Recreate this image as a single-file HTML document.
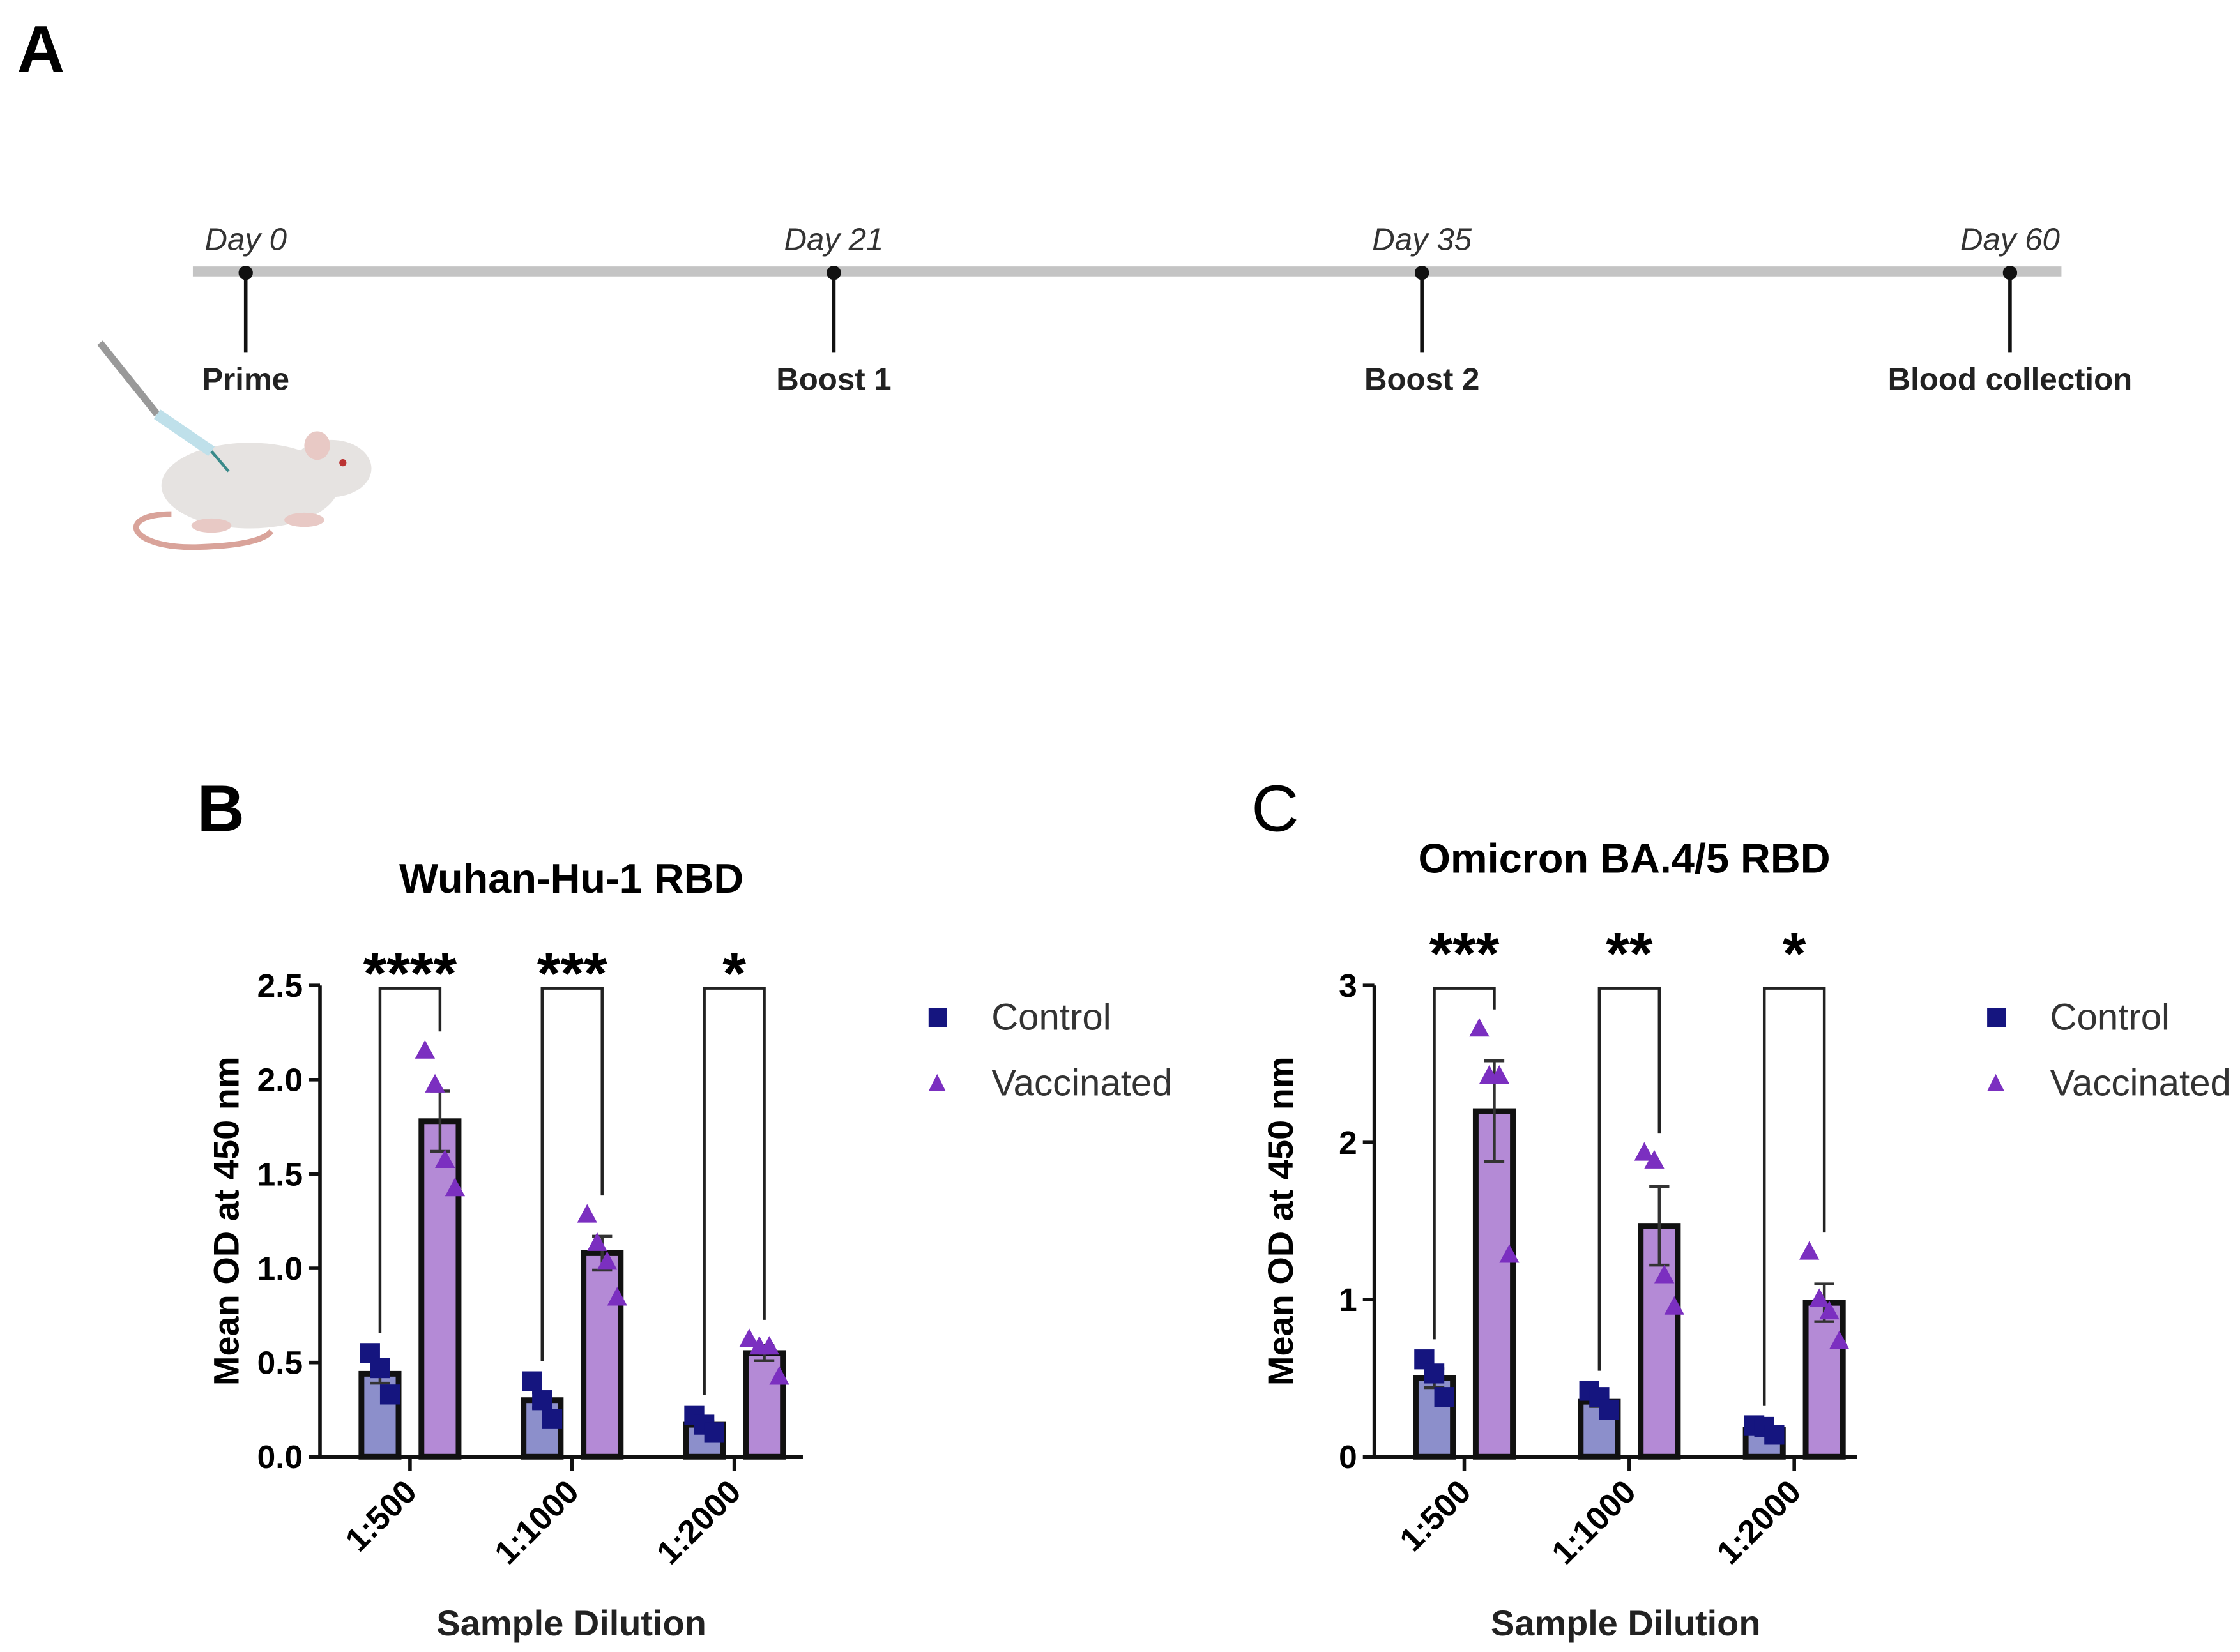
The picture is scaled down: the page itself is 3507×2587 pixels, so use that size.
<!DOCTYPE html>
<html><head><meta charset="utf-8"><style>
html,body{margin:0;padding:0;background:#fff;}
svg{display:block;font-family:"Liberation Sans",Arial,sans-serif;}
</style></head><body>
<svg id="fig" width="3507" height="2587" viewBox="0 0 1568 1156.7" preserveAspectRatio="none">
<text x="12" y="50" font-size="46" font-weight="bold">A</text>
<g id="timeline">
<line x1="135" y1="190" x2="1443" y2="190" stroke="#c4c4c4" stroke-width="7"/>
</g>
<g id="mouse">
<path d="M 120 360 C 80 360, 90 385, 140 383 C 170 382, 185 378, 190 372" fill="none" stroke="#d9a39a" stroke-width="4"/>
<ellipse cx="175" cy="340" rx="62" ry="30" fill="#e6e3e1"/>
<ellipse cx="232" cy="328" rx="28" ry="20" fill="#e6e3e1"/>
<ellipse cx="222" cy="312" rx="9" ry="10" fill="#e8c9c5"/>
<circle cx="240" cy="324" r="2.5" fill="#b33"/>
<ellipse cx="213" cy="364" rx="14" ry="5" fill="#e8c9c5"/>
<ellipse cx="148" cy="368" rx="14" ry="5" fill="#e8c9c5"/>
<line x1="70" y1="240" x2="110" y2="290" stroke="#999" stroke-width="5"/>
<line x1="110" y1="290" x2="148" y2="316" stroke="#bfe0ea" stroke-width="8"/>
<line x1="148" y1="316" x2="160" y2="330" stroke="#3a8a8a" stroke-width="2"/>
</g>
<text x="138" y="582" font-size="46" font-weight="bold">B</text>
<text x="876" y="582" font-size="46">C</text>
</svg>
<script>
const NS="http://www.w3.org/2000/svg";
const svg=document.getElementById('fig');
function el(tag,attrs,parent,txt){const e=document.createElementNS(NS,tag);for(const k in attrs)e.setAttribute(k,attrs[k]);if(txt!==undefined)e.textContent=txt;(parent||svg).appendChild(e);return e;}

// Timeline data (evenly spaced milestones)
const tlDays=["Day 0","Day 21","Day 35","Day 60"];
const tlEvents=["Prime","Boost 1","Boost 2","Blood collection"];

// Chart data
const categories=["1:500","1:1000","1:2000"];
const bCtrlMean=[0.44,0.30,0.17];
const bCtrlSem=[0.05,0.04,0.02];
const bVacMean=[1.78,1.08,0.55];
const bVacSem=[0.16,0.09,0.04];
const bCtrlPts=[[0.55,0.47,0.33],[0.40,0.30,0.20],[0.22,0.17,0.13]];
const bVacPts=[[2.15,1.97,1.57,1.42],[1.28,1.13,1.03,0.84],[0.62,0.58,0.58,0.42]];
const bStars=["****","***","*"];
const bTicks=[0,0.5,1.0,1.5,2.0,2.5];
const bTickLabels=["0.0","0.5","1.0","1.5","2.0","2.5"];

const cCtrlMean=[0.50,0.35,0.17];
const cCtrlSem=[0.06,0.03,0.02];
const cVacMean=[2.20,1.47,0.98];
const cVacSem=[0.32,0.25,0.12];
const cCtrlPts=[[0.62,0.53,0.38],[0.42,0.38,0.30],[0.20,0.19,0.14]];
const cVacPts=[[2.72,2.42,2.42,1.28],[1.93,1.88,1.15,0.95],[1.30,1.00,0.92,0.73]];
const cStars=["***","**","*"];
const cTicks=[0,1,2,3];
const cTickLabels=["0","1","2","3"];

// Timeline
const tl=document.getElementById('timeline');
const tX=i=>172+i*(1407-172)/(tlDays.length-1);
tlDays.forEach((d,i)=>{
  const x=tX(i);
  const t=el('text',{x:x,y:175,'font-size':22,'font-style':'italic','text-anchor':'middle',fill:'#333'},tl,d);
  
  
  const s=el('line',{x1:x,y1:190,x2:x,y2:247,stroke:'#111','stroke-width':2.5},tl);
  
  
  const c=el('circle',{cx:x,cy:191,r:5,fill:'#111'},tl);
  
  
  const e=el('text',{x:x,y:273,'font-size':22,'font-weight':'bold','text-anchor':'middle',fill:'#222'},tl,tlEvents[i]);
  
  
});

function chart(o){
  const g=el('g',{});
  
  
  const y=v=>o.y0-v/o.ymax*(o.y0-o.ytop);
  const xc=i=>o.ax+63+i*o.step;
  const t=el('text',{x:o.titleX,y:o.titleY,'font-size':29,'font-weight':'bold','text-anchor':'middle'},g,o.title);
  
  
  const yl=el('text',{x:0,y:0,'font-size':25,'font-weight':'bold','text-anchor':'middle',transform:`translate(${o.ax-57},855) rotate(-90)`},g,'Mean OD at 450 nm');
  
  
  const xl=el('text',{x:o.ax+176,y:1145,'font-size':25,'font-weight':'bold','text-anchor':'middle',fill:'#222'},g,'Sample Dilution');
  
  
  o.ticks.forEach((v,i)=>{
    const tk=el('line',{x1:o.ax-8,y1:y(v),x2:o.ax,y2:y(v),stroke:'#111','stroke-width':2.5},g);
    
    
    const lb=el('text',{x:o.ax-12,y:y(v)+8,'font-size':23,'font-weight':'bold','text-anchor':'end'},g,o.tickLabels[i]);
    
    
  });
  categories.forEach((c,i)=>{
    const x=xc(i);
    const cx=x-21, vx=x+21, bw=26;
    [[cx,o.cm[i],o.cs[i],'#8c8fcb','#15157f',o.cp[i],'square'],[vx,o.vm[i],o.vs[i],'#b48ad6','#7b2fc0',o.vp[i],'tri']].forEach((s,k)=>{
      const r=el('rect',{x:s[0]-bw/2,y:y(s[1]),width:bw,height:o.y0-y(s[1]),fill:s[3],stroke:'#111','stroke-width':4},g);
      
      
      const eb=el('path',{d:`M${s[0]} ${y(s[1]-s[2])}V${y(s[1]+s[2])}M${s[0]-7} ${y(s[1]+s[2])}H${s[0]+7}M${s[0]-7} ${y(s[1]-s[2])}H${s[0]+7}`,stroke:'#333','stroke-width':2,fill:'none'},g);
      
      
      s[5].forEach((v,j)=>{
        const n=s[5].length, px=s[0]+(j-(n-1)/2)*7, py=y(v);
        let m;
        if(s[6]==='square') m=el('rect',{x:px-7,y:py-7,width:14,height:14,fill:s[4]},g);
        else m=el('path',{d:`M${px} ${py-8}L${px+7} ${py+5}L${px-7} ${py+5}Z`,fill:s[4]},g);
        
        
      });
    });
    const top=o.ytop+2;
    const lb=y(Math.max(...o.cp[i]))-14, rb=y(Math.max(...o.vp[i]))-14;
    const br=el('path',{d:`M${cx} ${lb}V${top}H${vx}V${rb}`,stroke:'#222','stroke-width':2,fill:'none'},g);
    
    
    const st=el('text',{x:(cx+vx)/2,y:top+4+(o.starDy||0),'font-size':42,'font-weight':'bold','text-anchor':'middle'},g,o.stars[i]);
    
    
    const xt=el('line',{x1:x,y1:o.y0,x2:x,y2:o.y0+10,stroke:'#111','stroke-width':2.5},g);
    
    
    const xl2=el('text',{x:0,y:0,'font-size':23,'font-weight':'bold','text-anchor':'end',transform:`translate(${x+6},${o.y0+26}) rotate(-45)`},g,c);
    
    
  });
  const ax=el('path',{d:`M${o.ax} ${o.ytop}V${o.y0}H${o.ax+338}`,stroke:'#111','stroke-width':2.5,fill:'none'},g);
  
  
  const l1=el('rect',{x:o.lx-6,y:706,width:13,height:13,fill:'#15157f'},g);
  
  
  const l2=el('text',{x:o.lx+38,y:721,'font-size':26,fill:'#333'},g,'Control');
  
  
  const l3=el('path',{d:`M${o.lx} 752L${o.lx+6} 764L${o.lx-6} 764Z`,fill:'#7b2fc0'},g);
  
  
  const l4=el('text',{x:o.lx+38,y:767,'font-size':26,fill:'#333'},g,'Vaccinated');
  
  
}
chart({name:'chart-wuhan',title:'Wuhan-Hu-1 RBD',titleX:400,titleY:625,ax:224,y0:1020,ytop:690,ymax:2.5,step:113.5,ticks:bTicks,tickLabels:bTickLabels,cm:bCtrlMean,cs:bCtrlSem,vm:bVacMean,vs:bVacSem,cp:bCtrlPts,vp:bVacPts,stars:bStars,lx:656,starDy:0});
chart({name:'chart-omicron',title:'Omicron BA.4/5 RBD',titleX:1137,titleY:611,ax:962,y0:1020,ytop:690,ymax:3,step:115.5,ticks:cTicks,tickLabels:cTickLabels,cm:cCtrlMean,cs:cCtrlSem,vm:cVacMean,vs:cVacSem,cp:cCtrlPts,vp:cVacPts,stars:cStars,lx:1397,starDy:-14});
</script>
</body></html>
